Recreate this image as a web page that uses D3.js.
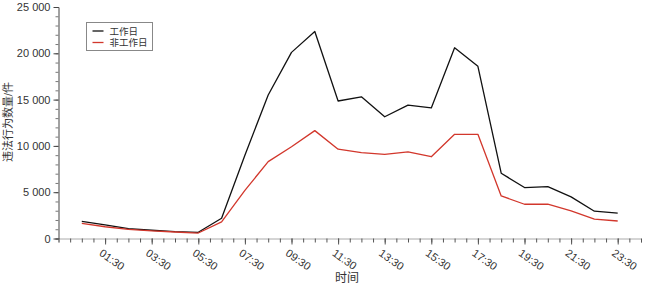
<!DOCTYPE html>
<html>
<head>
<meta charset="utf-8">
<script src="https://cdn.jsdelivr.net/npm/d3@7"></script>
<style>
  body { margin: 0; background: #fff; }
  svg text { font-family: "Liberation Sans", Arial, "Noto Sans CJK SC", sans-serif; fill: #333; }
</style>
</head>
<body>
<div id="chart"></div>
<script>
// hourly points, at half past each hour
var times = ['00:30','01:30','02:30','03:30','04:30','05:30','06:30','07:30','08:30','09:30','10:30','11:30',
             '12:30','13:30','14:30','15:30','16:30','17:30','18:30','19:30','20:30','21:30','22:30','23:30'];
var workday = [1850, 1460, 1060, 890, 740, 670, 2180, 9000, 15500, 20100, 22350, 14850,
               15300, 13150, 14400, 14100, 20600, 18600, 7050, 5500, 5600, 4500, 2950, 2750];
var holiday = [1640, 1270, 990, 820, 700, 590, 1800, 5200, 8300, 9900, 11650, 9650,
               9270, 9080, 9350, 8830, 11250, 11250, 4600, 3700, 3700, 2980, 2100, 1890];
var xTickLabels = ['01:30','03:30','05:30','07:30','09:30','11:30','13:30','15:30','17:30','19:30','21:30','23:30'];
var yTicks = [0, 5000, 10000, 15000, 20000, 25000];
var seriesNames = ['工作日', '非工作日'];
var seriesColors = ['#111111', '#d2372c'];

var width = 650, height = 294;

function toHours(s) {
	var p = s.split(':');
	return +p[0] + (+p[1]) / 60;
}

var svg = d3.select('#chart')
			.append('svg')
			.attr('width', width)
			.attr('height', height);

// Scales
var x_scale = d3.scaleLinear()
				.domain([-0.5, 24.5])
				.range([58.5, 641]);
var y_scale = d3.scaleLinear()
				.domain([0, 25000])
				.range([238.5, 7]);

var locale = d3.formatLocale({decimal: '.', thousands: ' ', grouping: [3], currency: ['', '']});
var fmt = locale.format(',d');

// x axis: minor ticks every 30 min, labelled ones every 2 h
var minorX = d3.range(-0.5, 24.51, 0.5);
svg.append('g')
   .attr('transform', 'translate(0,238.5)')
   .call(d3.axisBottom(x_scale).tickValues(minorX).tickSize(4).tickFormat(''))
   .call(function(g){
	   g.select('.domain').attr('stroke', '#aaa');
	   g.selectAll('.tick line').attr('stroke', '#555');
   });

var x_axis = svg.append('g')
   .attr('class', 'x-axis')
   .attr('transform', 'translate(0,238.5)')
   .call(d3.axisBottom(x_scale)
		.tickValues(xTickLabels.map(toHours))
		.tickSize(6)
		.tickFormat(function(d, i){ return xTickLabels[i]; }));
x_axis.select('.domain').remove();
x_axis.selectAll('.tick line').attr('stroke', '#555');
x_axis.selectAll('.tick text')
	.attr('font-size', 11)
	.attr('text-anchor', 'start')
	.attr('dy', 0)
	.attr('transform', 'translate(-2,9) rotate(35)');

// y axis with minor ticks every 1000
svg.append('g')
   .attr('transform', 'translate(58.5,0)')
   .call(d3.axisLeft(y_scale).tickValues(d3.range(0, 25001, 1000)).tickSize(3).tickFormat(''))
   .call(function(g){
	   g.select('.domain').attr('stroke', '#444');
	   g.selectAll('.tick line').attr('stroke', '#777');
   });
var y_axis = svg.append('g')
   .attr('transform', 'translate(58.5,0)')
   .call(d3.axisLeft(y_scale).tickValues(yTicks).tickSize(5).tickPadding(3).tickFormat(fmt));
y_axis.select('.domain').remove();
y_axis.selectAll('.tick line').attr('stroke', '#444');
y_axis.selectAll('.tick text').attr('font-size', 11);

// Axis titles
svg.append('text')
   .attr('x', 347)
   .attr('y', 282)
   .attr('text-anchor', 'middle')
   .attr('font-size', 12)
   .text('时间');
svg.append('text')
   .attr('transform', 'translate(12,122) rotate(-90)')
   .attr('text-anchor', 'middle')
   .attr('font-size', 11)
   .text('违法行为数量/件');

// Lines
var line = d3.line()
	.x(function(d, i){ return x_scale(toHours(times[i])); })
	.y(function(d){ return y_scale(d); });

[workday, holiday].forEach(function(s, k){
	svg.append('path')
	   .datum(s)
	   .attr('fill', 'none')
	   .attr('stroke', seriesColors[k])
	   .attr('stroke-width', 1.3)
	   .attr('stroke-linejoin', 'round')
	   .attr('d', line);
});

// Legend
var legend = svg.append('g').attr('transform', 'translate(86.5,22.5)');
legend.append('rect')
	.attr('width', 66)
	.attr('height', 28)
	.attr('fill', '#fff')
	.attr('stroke', '#888');
seriesNames.forEach(function(n, k){
	var yy = 8.5 + k * 11.5;
	legend.append('line')
		.attr('x1', 6).attr('x2', 17)
		.attr('y1', yy).attr('y2', yy)
		.attr('stroke', seriesColors[k])
		.attr('stroke-width', 1.3);
	legend.append('text')
		.attr('x', 23)
		.attr('y', yy + 3.5)
		.attr('font-size', 9.5)
		.text(n);
});
</script>
</body>
</html>
